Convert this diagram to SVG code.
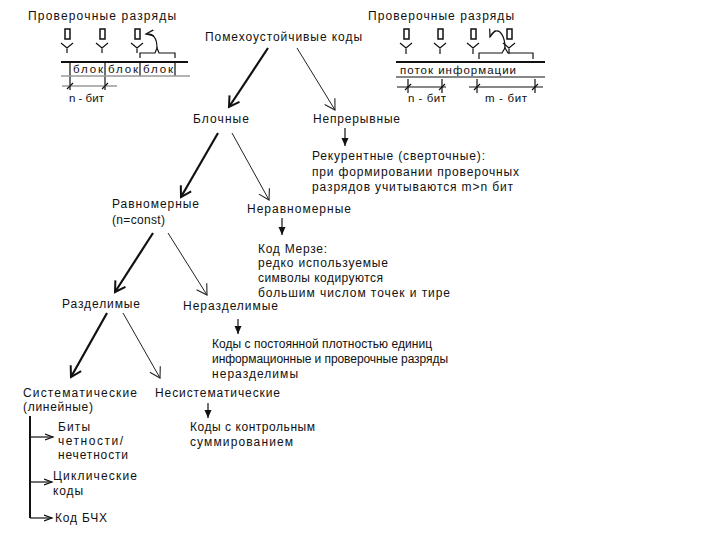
<svg xmlns="http://www.w3.org/2000/svg" width="720" height="540" viewBox="0 0 720 540">
<defs>
<style>
text{font-family:"Liberation Sans",Arial,sans-serif;font-size:12px;fill:#111}
.sm{font-size:11.5px}
.thick{stroke:#111;stroke-width:2.2;fill:none}
.thin{stroke:#222;stroke-width:1;fill:none}
.ln{stroke:#111;stroke-width:1.2;fill:none}
.bold{stroke:#111;stroke-width:2;fill:none}
.gray{stroke:#9a9a9a;stroke-width:1.5;fill:none}
.box{stroke:#111;stroke-width:1.5;fill:#fff}
</style>
<marker id="mThick" markerWidth="14" markerHeight="14" refX="11" refY="7" orient="auto" markerUnits="userSpaceOnUse">
<path d="M1,1 L11,7 L1,13" fill="none" stroke="#111" stroke-width="2"/>
</marker>
<marker id="mThin" markerWidth="14" markerHeight="14" refX="11" refY="7" orient="auto" markerUnits="userSpaceOnUse">
<path d="M1,1 L11,7 L1,13" fill="none" stroke="#222" stroke-width="1.1"/>
</marker>
<marker id="mDown" markerWidth="10" markerHeight="10" refX="8" refY="4" orient="auto" markerUnits="userSpaceOnUse">
<path d="M0,0.5 L8,4 L0,7.5 Z" fill="#111"/>
</marker>
<marker id="mOpen" markerWidth="10" markerHeight="10" refX="8" refY="4" orient="auto" markerUnits="userSpaceOnUse">
<path d="M0,1 L8,4 L0,7" fill="none" stroke="#111" stroke-width="1.2"/>
</marker>
</defs>
<rect width="720" height="540" fill="#fff"/>

<!-- Top-left schematic -->
<g id="scheme-left">
<text x="28" y="20" textLength="148">Проверочные разряды</text>
<rect class="box" x="65" y="29" width="5" height="10"/>
<rect class="box" x="100" y="29" width="5" height="10"/>
<rect class="box" x="135" y="29" width="5" height="10"/>
<path class="ln" d="M61,43 L67,48 L73,43 M67,48 L67,53 M96,43 L102,48 L108,43 M102,48 L102,53 M131,43 L137,48 L143,43 M137,48 L137,53"/>
<path class="ln" d="M140,58 L140,53 L155,53 L157,48 L159,53 L175,53 L175,58"/>
<path class="ln" d="M157,48 C157,38 153,33 146,34" marker-end="url(#mOpen)"/>
<line class="bold" x1="61" y1="62" x2="188" y2="62"/>
<path class="ln" d="M70,62 L70,90 M105,62 L105,90 M140,62 L140,76 M175,62 L175,76"/>
<text class="sm" x="73" y="73" textLength="30">блок</text>
<text class="sm" x="108" y="73" textLength="30">блок</text>
<text class="sm" x="143" y="73" textLength="30">блок</text>
<line class="gray" x1="61" y1="76" x2="190" y2="76"/>
<line class="gray" x1="62" y1="86" x2="117" y2="86"/>
<path class="ln" d="M67,89 L73,83 M102,89 L108,83"/>
<text class="sm" x="69" y="102">n - бит</text>
</g>

<!-- Top-right schematic -->
<g id="scheme-right">
<text x="368" y="20" textLength="146">Проверочные разряды</text>
<rect class="box" x="404" y="29" width="5" height="10"/>
<rect class="box" x="438" y="29" width="5" height="10"/>
<rect class="box" x="471" y="29" width="5" height="10"/>
<rect class="box" x="507" y="29" width="5" height="10"/>
<path class="ln" d="M400,43 L406,48 L412,43 M406,48 L406,54 M434,43 L440,48 L446,43 M440,48 L440,54 M467,43 L473,48 L479,43 M473,48 L473,54 M503,43 L509,48 L515,43 M509,48 L509,54"/>
<path class="ln" d="M479,59 L479,53 L502,53 L505,48 L508,53 L533,53 L533,59"/>
<path class="ln" d="M505,48 C505,36 500,30 496,31 C493,32 491,34 490,37" marker-end="url(#mOpen)"/>
<line class="bold" x1="396" y1="62" x2="545" y2="62"/>
<text class="sm" x="400" y="74" textLength="116">поток информации</text>
<line class="ln" x1="396" y1="77" x2="545" y2="77"/>
<line class="ln" x1="397" y1="87" x2="446" y2="87"/>
<line class="ln" x1="469" y1="87" x2="543" y2="87"/>
<path class="ln" d="M408,79 L408,93 M442,79 L442,93 M477,79 L477,93 M535,79 L535,93"/>
<path class="ln" d="M405,90 L411,84 M439,90 L445,84 M474,90 L480,84 M532,90 L538,84"/>
<text class="sm" x="408" y="102" textLength="38">n - бит</text>
<text class="sm" x="485" y="102" textLength="42">m - бит</text>
</g>

<!-- Nodes -->
<g id="n-root"><text x="205" y="41" textLength="157">Помехоустойчивые коды</text></g>
<g id="n-block"><text x="193" y="123" textLength="56">Блочные</text></g>
<g id="n-cont"><text x="313" y="123" textLength="87">Непрерывные</text></g>
<g id="n-recur">
<text x="312" y="160" textLength="173">Рекурентные (сверточные):</text>
<text x="312" y="176" textLength="207">при формировании проверочных</text>
<text x="312" y="191" textLength="201">разрядов учитываются m&gt;n бит</text>
</g>
<g id="n-uniform">
<text x="112" y="208" textLength="87">Равномерные</text>
<text x="112" y="224" textLength="53">(n=const)</text>
</g>
<g id="n-nonuniform"><text x="247" y="213" textLength="104">Неравномерные</text></g>
<g id="n-morse">
<text x="258" y="253" textLength="69">Код Мерзе:</text>
<text x="258" y="267" textLength="130">редко используемые</text>
<text x="258" y="282" textLength="125">символы кодируются</text>
<text x="258" y="297" textLength="192">большим числом точек и тире</text>
</g>
<g id="n-separable"><text x="62" y="308" textLength="78">Разделимые</text></g>
<g id="n-nonseparable"><text x="183" y="310" textLength="95">Неразделимые</text></g>
<g id="n-constdens">
<text x="212" y="348" textLength="220">Коды с постоянной плотностью единиц</text>
<text x="212" y="363" textLength="236">информационные и проверочные разряды</text>
<text x="212" y="378" textLength="86">неразделимы</text>
</g>
<g id="n-systematic">
<text x="23" y="397" textLength="114">Систематические</text>
<text x="23" y="411" textLength="70">(линейные)</text>
</g>
<g id="n-nonsystematic"><text x="155" y="397" textLength="125">Несистематические</text></g>
<g id="n-checksum">
<text x="190" y="431" textLength="125">Коды с контрольным</text>
<text x="190" y="446" textLength="103">суммированием</text>
</g>
<g id="n-parity">
<text x="58" y="431" textLength="32">Биты</text>
<text x="58" y="445" textLength="65">четности/</text>
<text x="58" y="459" textLength="70">нечетности</text>
</g>
<g id="n-cyclic">
<text x="53" y="480" textLength="84">Циклические</text>
<text x="53" y="495" textLength="30">коды</text>
</g>
<g id="n-bch"><text x="55" y="522" textLength="52">Код БЧХ</text></g>

<!-- Connectors -->
<g id="connectors">
<line class="thick" x1="268" y1="48" x2="229" y2="107" marker-end="url(#mThick)"/>
<line class="thin" x1="297" y1="48" x2="335" y2="110" marker-end="url(#mThin)"/>
<line class="ln" x1="345" y1="128" x2="345" y2="146" marker-end="url(#mDown)"/>
<line class="thick" x1="218" y1="133" x2="181" y2="197" marker-end="url(#mThick)"/>
<line class="thin" x1="232" y1="133" x2="269" y2="200" marker-end="url(#mThin)"/>
<line class="ln" x1="282" y1="218" x2="282" y2="235" marker-end="url(#mDown)"/>
<line class="thick" x1="153" y1="233" x2="115" y2="292" marker-end="url(#mThick)"/>
<line class="thin" x1="168" y1="233" x2="207" y2="295" marker-end="url(#mThin)"/>
<line class="ln" x1="238" y1="319" x2="238" y2="334" marker-end="url(#mDown)"/>
<line class="thick" x1="107" y1="313" x2="71" y2="377" marker-end="url(#mThick)"/>
<line class="thin" x1="123" y1="313" x2="160" y2="378" marker-end="url(#mThin)"/>
<line class="ln" x1="208" y1="403" x2="208" y2="418" marker-end="url(#mDown)"/>
<line class="bold" x1="30" y1="416" x2="30" y2="518"/>
<line class="ln" x1="30" y1="437" x2="53" y2="437" marker-end="url(#mOpen)"/>
<line class="ln" x1="30" y1="482" x2="52" y2="482" marker-end="url(#mOpen)"/>
<line class="ln" x1="30" y1="518" x2="52" y2="518" marker-end="url(#mOpen)"/>
</g>
</svg>
